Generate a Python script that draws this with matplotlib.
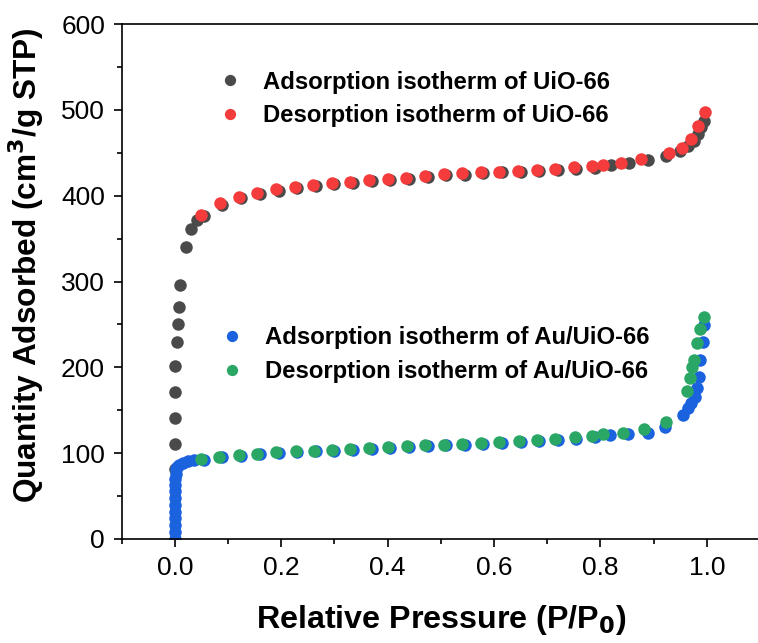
import matplotlib
matplotlib.use('Agg')
import matplotlib.pyplot as plt
from matplotlib.ticker import MultipleLocator

plt.rcParams['font.family'] = ['Liberation Sans', 'DejaVu Sans']

# UiO-66 adsorption branch
uio_ads_x = [0.000, 0.000, 0.000, 0.000, 0.001, 0.004, 0.006, 0.008, 0.009, 0.020, 0.031, 0.041,
             0.055, 0.088, 0.125, 0.160, 0.195, 0.230, 0.265, 0.300, 0.335, 0.370, 0.405, 0.440,
             0.475, 0.510, 0.545, 0.580, 0.615, 0.650, 0.685, 0.720, 0.755, 0.789, 0.819, 0.854,
             0.889, 0.923, 0.950, 0.965, 0.975, 0.983, 0.990, 0.994]
uio_ads_y = [82, 110.7, 140.6, 171, 201.5, 230, 250.5, 270.6, 296, 340.5, 361, 371.6,
             376, 389, 397, 402, 406, 408.5, 411.5, 413.5, 415, 417, 418, 419.5,
             421.5, 423.5, 424.5, 426, 427, 428, 429, 430, 431.5, 432.5, 435.7, 438.4,
             441.5, 446, 452, 458, 464, 472, 480, 487]

# UiO-66 desorption branch
uio_des_x = [0.049, 0.084, 0.121, 0.155, 0.191, 0.225, 0.260, 0.296, 0.330, 0.365, 0.400, 0.435,
             0.471, 0.505, 0.540, 0.575, 0.610, 0.645, 0.680, 0.715, 0.750, 0.785, 0.804, 0.839,
             0.877, 0.929, 0.954, 0.970, 0.984, 0.996]
uio_des_y = [377.5, 391.8, 398.8, 403.5, 407.4, 409.7, 412.8, 415.1, 416.3, 418.3, 419.4, 421,
             423, 424.9, 426, 427, 428, 429, 430, 431, 433, 434.5, 436, 438.4,
             442.3, 450, 455.1, 465.6, 481, 497.8]

# Au/UiO-66 adsorption branch
au_ads_x = [0.000, 0.000, 0.000, 0.000, 0.000, 0.000, 0.000, 0.000, 0.001, 0.001, 0.002, 0.003,
            0.004, 0.008, 0.015, 0.025, 0.035, 0.054, 0.088, 0.125, 0.160, 0.195, 0.230, 0.265,
            0.300, 0.335, 0.370, 0.405, 0.440, 0.475, 0.510, 0.545, 0.580, 0.615, 0.650, 0.685,
            0.720, 0.755, 0.789, 0.818, 0.852, 0.890, 0.921, 0.956, 0.965, 0.971, 0.977, 0.981,
            0.986, 0.988, 0.993, 0.995]
au_ads_y = [0, 8, 16, 24, 32, 40, 48, 56, 63, 70, 76, 81,
            84, 86, 88.5, 91, 92.5, 92.5, 95, 97, 98.5, 100, 101, 102,
            103, 104, 105, 106, 107, 108, 109, 110, 111, 112, 113, 114,
            115.5, 117, 118.5, 120.8, 122.3, 123.9, 130.8, 144.5, 152.2, 158.8, 165.8, 175.5,
            189, 208.5, 230, 249.3]

# Au/UiO-66 desorption branch
au_des_x = [0.049, 0.083, 0.121, 0.155, 0.191, 0.227, 0.261, 0.296, 0.330, 0.365, 0.400, 0.437,
            0.471, 0.505, 0.540, 0.575, 0.610, 0.646, 0.680, 0.715, 0.752, 0.785, 0.805, 0.842,
            0.881, 0.924, 0.962, 0.968, 0.973, 0.976, 0.981, 0.987, 0.995]
au_des_y = [93, 96, 98, 99.5, 101, 102, 103, 104, 105, 106, 107, 108,
            109, 110, 111, 112, 113, 114, 115, 116, 119.2, 120, 122, 123.9,
            127.8, 136.7, 172.4, 188, 200, 208.5, 228, 244.3, 259]

labels_uio = ['Adsorption isotherm of UiO-66', 'Desorption isotherm of UiO-66']
labels_au = ['Adsorption isotherm of Au/UiO-66', 'Desorption isotherm of Au/UiO-66']

GRAY = '#4a4a4a'
RED = '#f43c3c'
BLUE = '#1b62de'
GREEN = '#2aa765'

W, H = 758, 643
fig = plt.figure(figsize=(W / 100, H / 100), dpi=100)
ax = fig.add_axes([121.7 / W, (H - 539) / H, (760 - 121.7) / W, 515 / H])

ms = 9
h1, = ax.plot(uio_ads_x, uio_ads_y, 'o', color=GRAY, ms=ms, mew=0, label=labels_uio[0])
h2, = ax.plot(uio_des_x, uio_des_y, 'o', color=RED, ms=ms, mew=0, label=labels_uio[1])
h3, = ax.plot(au_ads_x, au_ads_y, 'o', color=BLUE, ms=ms, mew=0, label=labels_au[0])
h4, = ax.plot(au_des_x, au_des_y, 'o', color=GREEN, ms=ms, mew=0, label=labels_au[1])

ax.set_xlim(-0.1, 1.1)
ax.set_ylim(0, 600)
ax.xaxis.set_major_locator(MultipleLocator(0.2))
ax.xaxis.set_minor_locator(MultipleLocator(0.1))
ax.yaxis.set_major_locator(MultipleLocator(100))
ax.yaxis.set_minor_locator(MultipleLocator(50))
ax.set_xticks([0.0, 0.2, 0.4, 0.6, 0.8, 1.0])
ax.set_xticklabels(['0.0', '0.2', '0.4', '0.6', '0.8', '1.0'])
ax.tick_params(which='major', direction='out', length=6, width=1.2, labelsize=19, pad=6)
ax.tick_params(which='minor', direction='out', length=3.5, width=1.2)
for s in ax.spines.values():
    s.set_linewidth(1.2)

ax.set_xlabel('Relative Pressure (P/P$_\\mathbf{0}$)', fontsize=23.2, fontweight='bold', labelpad=17)
ax.set_ylabel('Quantity Adsorbed (cm$^\\mathbf{3}$/g STP)', fontsize=22.8, fontweight='bold')
ax.yaxis.set_label_coords(-0.118, 0.532)

leg_kw = dict(frameon=False, prop={'weight': 'bold', 'size': 17.2}, handlelength=1.0,
              handletextpad=0.88, labelspacing=0.45, borderpad=0, borderaxespad=0,
              markerscale=0.9, loc='center left', bbox_transform=fig.transFigure)
leg1 = ax.legend(handles=[h1, h2], bbox_to_anchor=(218 / W, 1 - 99 / H), **leg_kw)
ax.add_artist(leg1)
ax.legend(handles=[h3, h4], bbox_to_anchor=(220 / W, 1 - 354.5 / H), **leg_kw)

fig.savefig('out.png', dpi=100)
